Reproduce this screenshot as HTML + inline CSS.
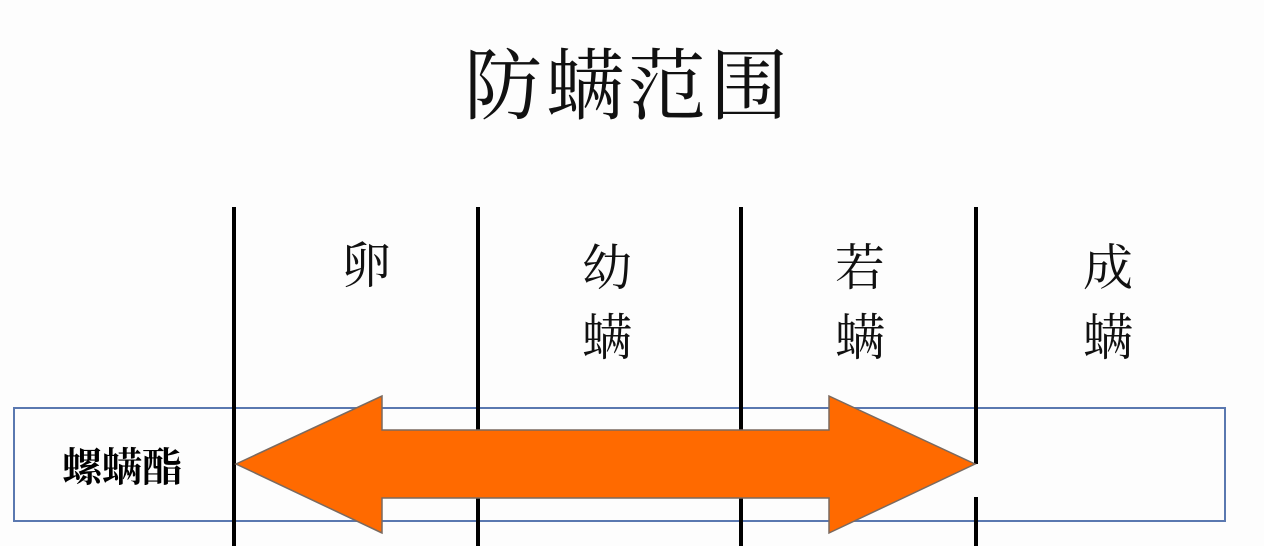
<!DOCTYPE html>
<html><head><meta charset="utf-8"><style>
body{margin:0;background:#fdfdfd;}
</style></head><body>
<svg width="1264" height="546" xmlns="http://www.w3.org/2000/svg" style="display:block">
<rect width="1264" height="546" fill="#fdfdfd"/>
<text x="628" y="113" font-family="'Noto Serif CJK SC',serif" font-size="78" text-anchor="middle" fill="#111" letter-spacing="4">防螨范围</text>
<rect x="14" y="408" width="1211" height="113" fill="none" stroke="#5a78b0" stroke-width="2"/>
<g stroke="#000" stroke-width="4">
<line x1="234" y1="207" x2="234" y2="546"/>
<line x1="478" y1="207" x2="478" y2="546"/>
<line x1="741" y1="207" x2="741" y2="546"/>
<line x1="976" y1="207" x2="976" y2="464"/>
<line x1="976" y1="497" x2="976" y2="546"/>
</g>
<g font-family="'Noto Serif CJK SC',serif" font-size="50" text-anchor="middle" fill="#111">
<text x="366" y="283">卵</text>
<text x="607" y="285">幼</text><text x="607" y="355">螨</text>
<text x="860" y="285">若</text><text x="860" y="355">螨</text>
<text x="1108" y="285">成</text><text x="1108" y="355">螨</text>
</g>
<text x="122" y="481" font-family="'Noto Serif CJK SC',serif" font-weight="bold" font-size="40" text-anchor="middle" fill="#000">螺螨酯</text>
<polygon points="236,464 382,396 382,430 829,430 829,396 975,464 829,533 829,498 382,498 382,533" fill="#ff6a00" stroke="#7a6a60" stroke-width="1.5"/>
</svg>
</body></html>
